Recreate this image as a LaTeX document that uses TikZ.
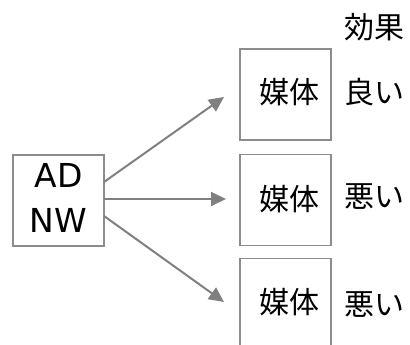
\documentclass[tikz,border=0pt]{standalone}
\usepackage{fontspec}
\setmainfont{Noto Sans CJK JP}
\newfontfamily\latinfont{DejaVu Sans}
\usetikzlibrary{arrows.meta}
\begin{document}
\begin{tikzpicture}[x=1bp,y=-1bp,
  box/.style={draw=boxgray,line width=1.6bp,minimum width=91bp,minimum height=91bp,inner sep=0pt},
  txt/.style={inner sep=0pt,font=\fontsize{30bp}{44bp}\selectfont},
  ltxt/.style={inner sep=0pt,font=\latinfont\fontsize{33bp}{45bp}\selectfont},
  arr/.style={draw=arrgray,line width=2bp,-{Triangle[length=15bp,width=14bp]}}]
\definecolor{boxgray}{RGB}{140,140,140}
\definecolor{arrgray}{RGB}{128,128,128}
\useasboundingbox (0,0) rectangle (410,345);
\begin{scope}
\clip (0,0) rectangle (410,345);
\node[box] (ad) at (58.5,200.5) {};
\node[ltxt,align=center] (adt) at (58.5,198) {AD\\NW};
\node[box] (m1) at (285.5,94.5) {};
\node[box] (m2) at (285.5,200) {};
\node[box] (m3) at (285.5,304) {};
\node[txt] (m1t) at (289,92) {媒体};
\node[txt] (m2t) at (289,199) {媒体};
\node[txt] (m3t) at (289,302) {媒体};
\node[txt] (eff) at (374,27) {効果};
\node[txt] (l1) at (374,92) {良い};
\node[txt] (l2) at (374,197) {悪い};
\node[txt] (l3) at (374,305) {悪い};
\coordinate (s1) at (104,182);
\coordinate (s2) at (104,199);
\coordinate (s3) at (104,216);
\coordinate (e1) at (224,97);
\coordinate (e2) at (226,199);
\coordinate (e3) at (224,302);
\draw[arr] (s1) -- (e1);
\draw[arr] (s2) -- (e2);
\draw[arr] (s3) -- (e3);
\end{scope}
\end{tikzpicture}
\end{document}
